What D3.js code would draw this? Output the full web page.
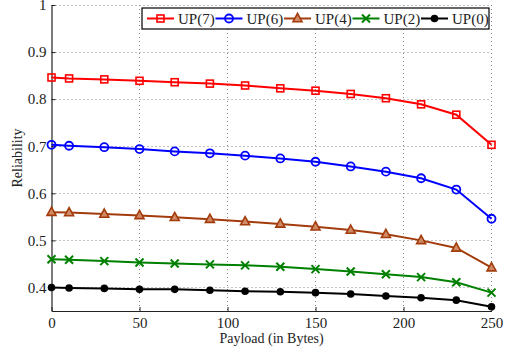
<!DOCTYPE html>
<html>
<head>
<meta charset="utf-8">
<script src="https://cdn.jsdelivr.net/npm/d3@7"></script>
<style>
  body { margin: 0; background: #fff; }
  svg text { font-family: "Liberation Serif", "Times New Roman", serif; fill: #222; }
</style>
</head>
<body>
<div id="chart"></div>
<script>
// payload sizes (bytes)
var payload = [0, 10, 30, 50, 70, 90, 110, 130, 150, 170, 190, 210, 230, 250];

// reliability per series
var up7 = [0.846, 0.844, 0.842, 0.839, 0.836, 0.833, 0.829, 0.823, 0.818, 0.811, 0.802, 0.789, 0.767, 0.703];
var up6 = [0.703, 0.701, 0.698, 0.694, 0.689, 0.685, 0.680, 0.674, 0.667, 0.657, 0.646, 0.632, 0.608, 0.546];
var up4 = [0.560, 0.559, 0.556, 0.553, 0.549, 0.545, 0.540, 0.535, 0.529, 0.522, 0.513, 0.500, 0.484, 0.442];
var up2 = [0.460, 0.459, 0.456, 0.453, 0.451, 0.449, 0.447, 0.444, 0.439, 0.434, 0.428, 0.422, 0.411, 0.389];
var up0 = [0.400, 0.399, 0.398, 0.396, 0.396, 0.394, 0.392, 0.391, 0.389, 0.386, 0.382, 0.378, 0.373, 0.359];

var seriesNames = ["UP(7)", "UP(6)", "UP(4)", "UP(2)", "UP(0)"];
var xTicks = [0, 50, 100, 150, 200, 250];
var yTicks = [0.4, 0.5, 0.6, 0.7, 0.8, 0.9, 1];

var series = [
  {name: seriesNames[0], values: up7, color: "#ff0000", marker: "square"},
  {name: seriesNames[1], values: up6, color: "#0000ff", marker: "circle"},
  {name: seriesNames[2], values: up4, color: "#a33c0c", marker: "triangle"},
  {name: seriesNames[3], values: up2, color: "#008000", marker: "cross"},
  {name: seriesNames[4], values: up0, color: "#000000", marker: "dot"}
];

var margin = {top: 5, right: 13.5, bottom: 37, left: 51.5},
    width = 505 - margin.left - margin.right,
    height = 348 - margin.top - margin.bottom;

var x = d3.scaleLinear().domain([0, 250]).range([0, width]);
var y = d3.scaleLinear().domain([0.35, 1]).range([height, 0]);

var svg = d3.select("#chart")
  .append("svg")
    .attr("width", 505)
    .attr("height", 348)
  .append("g")
    .attr("transform", "translate(" + margin.left + "," + margin.top + ")");

// dotted grid
svg.append("g").selectAll("line")
  .data(xTicks.filter(function(d) { return d > 0; }))
  .enter().append("line")
    .attr("x1", function(d) { return x(d); })
    .attr("x2", function(d) { return x(d); })
    .attr("y1", 0).attr("y2", height)
    .attr("stroke", "#888").attr("stroke-width", 1)
    .attr("stroke-dasharray", "1,3");

svg.append("g").selectAll("line")
  .data(yTicks)
  .enter().append("line")
    .attr("x1", 0).attr("x2", width)
    .attr("y1", function(d) { return Math.round(y(d)) + 0.5; })
    .attr("y2", function(d) { return Math.round(y(d)) + 0.5; })
    .attr("stroke", "#888").attr("stroke-width", 1)
    .attr("stroke-dasharray", "1,3");

// axes (ticks point inward)
var xAxis = d3.axisBottom(x).tickValues(xTicks).tickSizeInner(-4).tickSizeOuter(0).tickPadding(6);
var yAxis = d3.axisLeft(y).tickValues(yTicks).tickSizeInner(-4).tickSizeOuter(0).tickPadding(5)
  .tickFormat(function(d) { return d === 1 ? "1" : d3.format(".1f")(d); });

var gx = svg.append("g")
  .attr("transform", "translate(0," + height + ")")
  .call(xAxis);
var gy = svg.append("g").call(yAxis);

[gx, gy].forEach(function(g) {
  g.attr("font-family", null);
  g.select(".domain").attr("stroke", "#222").attr("stroke-width", 1.2);
  g.selectAll(".tick line").attr("stroke", "#222");
  g.selectAll(".tick text")
    .attr("font-size", 15).attr("fill", "#222");
});

// axis titles
svg.append("text")
  .attr("x", width / 2).attr("y", height + 32)
  .attr("text-anchor", "middle").attr("font-size", 14)
  .text("Payload (in Bytes)");

svg.append("text")
  .attr("transform", "translate(" + (-30) + "," + (height / 2) + ") rotate(-90)")
  .attr("text-anchor", "middle").attr("font-size", 14)
  .text("Reliability");

// marker drawer
function drawMarker(g, type, color) {
  if (type === "square") {
    g.append("rect").attr("x", -3.5).attr("y", -3.5).attr("width", 7).attr("height", 7)
      .attr("fill", "none").attr("stroke", color).attr("stroke-width", 1.6);
  } else if (type === "circle") {
    g.append("circle").attr("r", 4)
      .attr("fill", "none").attr("stroke", color).attr("stroke-width", 1.8);
  } else if (type === "triangle") {
    g.append("path").attr("d", "M0,-5L4.5,3.2L-4.5,3.2Z")
      .attr("fill", "#d08a66").attr("stroke", color).attr("stroke-width", 1.6);
  } else if (type === "cross") {
    g.append("path").attr("d", "M-4,-4L4,4M-4,4L4,-4")
      .attr("stroke", color).attr("stroke-width", 2);
  } else {
    g.append("circle").attr("r", 3.8).attr("fill", color);
  }
}

var line = d3.line()
  .x(function(d, i) { return x(payload[i]); })
  .y(function(d) { return y(d); });

series.forEach(function(s) {
  svg.append("path")
    .attr("d", line(s.values))
    .attr("fill", "none")
    .attr("stroke", s.color)
    .attr("stroke-width", 2);

  s.values.forEach(function(v, i) {
    var g = svg.append("g")
      .attr("transform", "translate(" + x(payload[i]) + "," + y(v) + ")");
    drawMarker(g, s.marker, s.color);
  });
});

// legend
var legX = 142 - margin.left, legY = 8 - margin.top, legW = 347, legH = 21, step = 68.5;
var leg = svg.append("g").attr("transform", "translate(" + legX + "," + legY + ")");
leg.append("rect")
  .attr("width", legW).attr("height", legH)
  .attr("fill", "#fff").attr("stroke", "#000").attr("stroke-width", 1.2);

series.forEach(function(s, i) {
  var ex = 5 + i * step;
  leg.append("line")
    .attr("x1", ex).attr("x2", ex + 27)
    .attr("y1", legH / 2).attr("y2", legH / 2)
    .attr("stroke", s.color).attr("stroke-width", 2);
  var m = leg.append("g").attr("transform", "translate(" + (ex + 13.5) + "," + (legH / 2) + ")");
  drawMarker(m, s.marker, s.color);
  leg.append("text")
    .attr("x", ex + 31).attr("y", legH / 2 + 5)
    .attr("font-size", 15)
    .text(s.name);
});
</script>
</body>
</html>
